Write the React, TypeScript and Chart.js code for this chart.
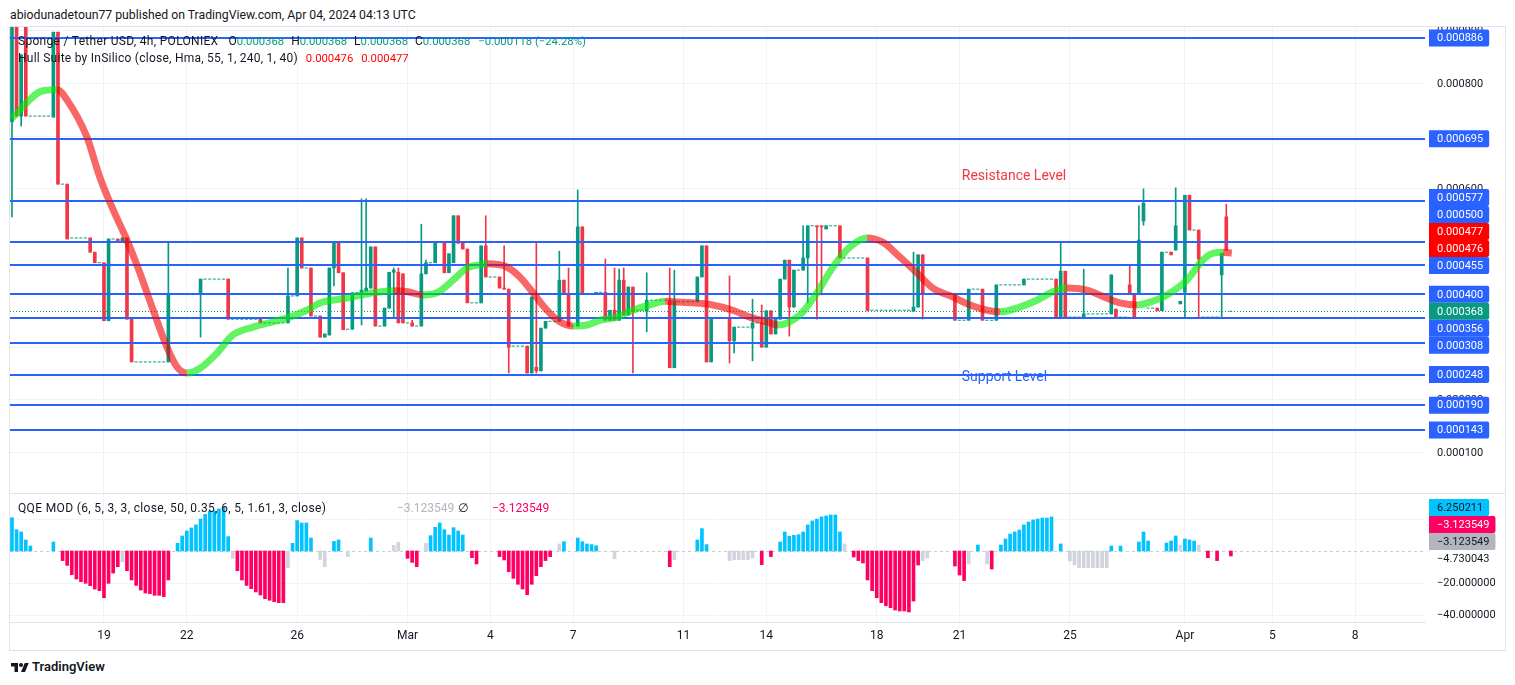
import React, { useEffect, useRef } from 'react';
import { Chart, registerables } from 'chart.js';

Chart.register(...registerables);

// ---------------- data (prices in millionths of USDT) ----------------
const UNIT = 1e-6;

// time axis: bar index of each date label (4h bars, bars without trades are skipped)
const dateTickIdx = [20, 38, 62, 86, 104, 122, 146, 164, 188, 206, 230, 255, 274, 292];
const dateTickLabels = ['19', '22', '26', 'Mar', '4', '7', '11', '14', '18', '21', '25', 'Apr', '5', '8'];

// candles
const candleIdx = [
  0, 1, 2, 3, 9, 10, 12, 17, 18, 20,
  21, 23, 24, 25, 26, 34, 41, 47, 54, 60,
  62, 63, 65, 67, 68, 69, 70, 71, 72, 74,
  76, 77, 78, 79, 81, 82, 83, 84, 85, 87,
  89, 90, 92, 94, 95, 96, 97, 98, 99, 102,
  103, 106, 107, 108, 112, 113, 114, 115, 116, 119,
  120, 121, 123, 124, 127, 129, 130, 131, 132, 133,
  134, 135, 138, 143, 144, 149, 150, 151, 152, 156,
  157, 161, 163, 164, 165, 166, 167, 168, 169, 170,
  172, 173, 175, 176, 177, 180, 186, 196, 197, 198,
  205, 208, 211, 214, 220, 227, 228, 229, 233, 239,
  240, 243, 244, 245, 246, 249, 250, 252, 253, 254,
  255, 256, 258, 263, 264,
];
const candleOpen = [
  727, 920, 738, 920, 736, 897, 609, 507, 480, 460,
  350, 505, 499, 507, 353, 272, 401, 429, 353, 346,
  397, 507, 450, 359, 319, 323, 450, 499, 441, 334,
  403, 406, 412, 490, 340, 374, 442, 442, 439, 346,
  340, 439, 460, 499, 441, 460, 549, 497, 486, 384,
  492, 433, 412, 410, 302, 251, 262, 255, 336, 349,
  427, 401, 340, 528, 401, 404, 351, 370, 351, 427,
  361, 414, 368, 389, 261, 386, 433, 492, 272, 355,
  312, 336, 346, 300, 369, 325, 353, 429, 465, 376,
  446, 469, 530, 530, 524, 530, 469, 368, 376, 475,
  401, 351, 410, 351, 418, 429, 357, 444, 357, 363,
  372, 418, 401, 401, 539, 374, 369, 480, 484, 382,
  404, 588, 522, 437, 547,
];
const candleHigh = [
  950, 950, 854, 950, 897, 897, 609, 507, 480, 460,
  505, 505, 507, 507, 353, 499, 429, 429, 353, 450,
  507, 507, 450, 359, 325, 450, 499, 499, 441, 403,
  581, 581, 490, 490, 374, 442, 450, 450, 439, 351,
  533, 465, 499, 499, 477, 549, 549, 497, 486, 492,
  549, 433, 492, 410, 302, 395, 497, 336, 349, 482,
  427, 450, 598, 528, 404, 467, 370, 450, 448, 450,
  414, 414, 441, 450, 446, 433, 492, 492, 355, 435,
  338, 391, 380, 369, 369, 355, 429, 465, 465, 446,
  530, 530, 530, 530, 530, 530, 469, 480, 475, 475,
  401, 410, 410, 418, 429, 429, 499, 444, 448, 437,
  372, 454, 401, 568, 600, 374, 480, 480, 602, 387,
  588, 588, 522, 478, 571,
];
const candleLow = [
  547, 738, 719, 738, 736, 609, 505, 480, 460, 350,
  350, 499, 499, 353, 272, 272, 319, 353, 346, 346,
  397, 450, 359, 319, 319, 323, 416, 441, 333, 334,
  342, 406, 412, 340, 340, 374, 357, 346, 346, 340,
  340, 439, 460, 441, 441, 460, 497, 486, 384, 384,
  433, 412, 410, 251, 251, 251, 251, 255, 336, 349,
  401, 340, 340, 401, 401, 351, 351, 351, 351, 361,
  361, 251, 329, 261, 261, 386, 433, 272, 272, 270,
  289, 274, 300, 300, 325, 325, 353, 429, 321, 376,
  446, 384, 353, 399, 524, 469, 369, 368, 376, 353,
  351, 351, 351, 351, 418, 357, 357, 357, 357, 363,
  357, 401, 357, 401, 531, 369, 369, 475, 484, 382,
  357, 522, 357, 357, 484,
];
const candleClose = [
  920, 738, 854, 738, 897, 609, 505, 480, 460, 350,
  505, 499, 507, 353, 272, 401, 429, 353, 346, 397,
  507, 450, 359, 319, 325, 450, 499, 441, 333, 403,
  408, 412, 490, 340, 374, 442, 446, 346, 346, 340,
  439, 460, 499, 441, 477, 549, 497, 486, 384, 492,
  433, 412, 410, 300, 251, 395, 255, 336, 349, 427,
  401, 340, 528, 401, 404, 351, 370, 351, 427, 361,
  414, 367, 389, 261, 388, 433, 492, 272, 355, 312,
  338, 346, 300, 369, 325, 355, 429, 465, 376, 446,
  469, 530, 528, 528, 530, 469, 369, 376, 475, 401,
  351, 410, 351, 418, 429, 357, 444, 357, 363, 437,
  357, 401, 357, 503, 573, 369, 480, 475, 530, 387,
  588, 522, 467, 478, 484,
];

// runs of no-trade bars (O=H=L=C)
const dojiStart = [4, 11, 13, 19, 22, 27, 35, 42, 48, 55, 61, 64, 66, 73, 75, 80, 86, 88, 91, 93, 100, 104, 109, 117, 122, 125, 128, 136, 139, 145, 153, 158, 162, 171, 174, 178, 181, 187, 199, 206, 209, 212, 215, 221, 230, 234, 241, 247, 251, 257, 259, 265];
const dojiEnd = [8, 11, 16, 19, 22, 33, 40, 46, 53, 59, 61, 64, 66, 73, 75, 80, 86, 88, 91, 93, 101, 105, 111, 118, 122, 126, 128, 137, 142, 148, 155, 160, 162, 171, 174, 179, 185, 195, 204, 207, 210, 213, 219, 226, 232, 238, 242, 248, 251, 257, 262, 265];
const dojiPrice = [738, 609, 507, 460, 505, 272, 401, 429, 353, 346, 397, 450, 359, 334, 403, 340, 346, 340, 460, 499, 384, 433, 302, 349, 340, 401, 404, 370, 389, 386, 355, 338, 346, 446, 530, 530, 469, 370, 401, 351, 410, 351, 418, 429, 357, 363, 357, 374, 480, 522, 357, 368];

// Hull Suite (HMA 55)
const hullIdx = [0, 6.7, 9.8, 12, 16.3, 19.1, 22, 25, 27.8, 30.7, 33.7, 35.9, 38, 40.9, 44.6, 48, 52.4, 56.7, 60.4, 64.1, 67, 72.8, 78.5, 83, 86, 89.3, 92.4, 95.9, 98.9, 101.7, 103.3, 107.6, 110.4, 113.3, 116.3, 119.1, 122, 125, 127.8, 131.5, 135, 138.7, 142, 145.9, 149.6, 151.7, 156.7, 160.4, 164.1, 166.5, 171.3, 175, 178.5, 182.2, 185.9, 189.3, 193, 196.7, 200.2, 204.6, 208.3, 212, 214.8, 219.1, 222.8, 226.3, 229.3, 233.7, 238, 240.9, 244.6, 248, 251.1, 255.4, 258.9, 261.1, 263.3, 265.2];
const hullVal = [734, 786, 788, 768, 698, 622, 560, 503, 441, 370, 300, 262, 251, 260, 289, 323, 338, 348, 357, 370, 384, 393, 403, 407, 405, 399, 403, 427, 450, 456, 458, 452, 433, 403, 370, 348, 340, 342, 351, 357, 370, 380, 387, 385, 383, 381, 370, 357, 348, 342, 361, 403, 452, 490, 507, 499, 471, 441, 412, 395, 380, 370, 367, 376, 389, 405, 412, 408, 393, 384, 380, 387, 399, 427, 465, 478, 480, 478];

// horizontal levels drawn on the chart
const levelValues = [886, 695, 577, 500, 455, 400, 356, 308, 248, 190, 143];
const hullLast = [477, 476];
const lastPrice = 368;
const lastChange = -118;
const lastChangePct = -24.28;
const priceTicks = [100, 200, 300, 400, 500, 600, 700, 800, 900];
const resistanceNote = { text: 'Resistance Level', idx: 206.5, price: 624 };
const supportNote = { text: 'Support Level', idx: 206.5, price: 243 };

// QQE MOD histogram
const qqeIdx = [
  0, 1, 2, 3, 4, 9, 11, 12, 13, 14,
  15, 16, 17, 18, 19, 20, 21, 22, 23, 24,
  25, 26, 27, 28, 29, 30, 31, 32, 33, 34,
  36, 37, 38, 39, 40, 41, 42, 43, 44, 45,
  46, 47, 48, 49, 50, 51, 52, 53, 54, 55,
  56, 57, 58, 59, 60, 61, 62, 63, 64, 65,
  67, 68, 70, 71, 73, 78, 83, 84, 86, 87,
  88, 90, 91, 92, 93, 94, 95, 96, 97, 98,
  100, 101, 106, 107, 108, 109, 110, 111, 112, 113,
  114, 115, 116, 117, 119, 120, 123, 124, 125, 126,
  127, 131, 143, 144, 149, 150, 151, 156, 157, 158,
  159, 160, 161, 163, 165, 167, 168, 169, 170, 171,
  172, 173, 174, 175, 176, 177, 178, 179, 180, 181,
  183, 184, 185, 186, 187, 188, 189, 190, 191, 192,
  193, 194, 195, 196, 197, 198, 199, 205, 206, 207,
  208, 210, 212, 213, 215, 216, 217, 218, 219, 220,
  221, 222, 223, 224, 225, 226, 228, 230, 231, 232,
  233, 234, 235, 236, 237, 238, 239, 241, 245, 246,
  247, 251, 252, 253, 254, 255, 256, 257, 258, 260,
  262, 265,
];
const qqeVal = [
  20.8, 13.3, 11.9, 6.9, 3.1, 5.6, -6, -9, -14.8, -17.5,
  -19.2, -20.2, -21.7, -23.8, -24.8, -29.2, -20.2, -13.8, -9.8, -6.7,
  -12.3, -18.1, -21.5, -24.4, -26.3, -26.7, -27.7, -27.7, -28.5, -18.1,
  4.8, 9.4, 12.5, 14.4, 16.3, 20, 22.9, 25, 25, 26.3,
  27.3, 9, -4.6, -12.3, -18.1, -21.5, -23.5, -25.6, -27.5, -29.8,
  -30.8, -31.7, -32.3, -32.3, -10.4, 4.8, 19, 17.5, 17.5, 8.1,
  -5.2, -9.8, 6, 6.9, -3.5, 8.1, 3.5, 5.4, -4.6, -7.1,
  -9.8, 4.8, 9.6, 14.8, 17.5, 13.3, 10, 14.6, 12.5, 10,
  -4.2, -8.1, -3.5, -5.6, -12.9, -17.1, -20.8, -23.8, -27.3, -20.8,
  -15.4, -9.8, -6, -3.5, 4.4, 5.8, 8.1, 5.8, 4.4, 4,
  3.3, -4.8, -9.8, -5.4, 6.9, 14, 4, -6, -5.4, -5.4,
  -5.4, -5.4, -4.4, -8.5, -3.5, 5.6, 11.9, 9.2, 9.8, 10.2,
  11.9, 16.3, 18.8, 20, 21.3, 21.9, 22.5, 22.5, 11.9, 4.4,
  -3.75, -6, -7.5, -18.1, -24.8, -29.2, -32.3, -34.2, -35.4, -36.9,
  -37.5, -37.5, -38.1, -31.3, -8.75, -6, -4.4, -9.4, -15, -18.5,
  -8.1, 3.75, -8.1, -11.25, 3.75, 7.5, 10.6, 11.9, 13.1, 16.3,
  18.1, 19.4, 20, 20.6, 20.6, 21.3, 4.4, -6.25, -8.75, -10.4,
  -10.4, -10.4, -10.4, -10.4, -10.4, -10.4, 3.1, 3.1, 5.6, 11.9,
  6.25, 5, 6.25, 9.4, 3.75, 7.5, 6.9, 6.25, 3.75, -4.2,
  -6, -3.12,
];
// u = above threshold (blue), d = below threshold (pink), n = neutral (grey)
const qqeKind = (
  'uuuuuudddd' + 'dddddddddn' + 'dddddddddd' + 'uuuuuuuuuu' + 'uunddddddd' +
  'ddddnuuuuu' + 'nnuununndd' + 'dnuuuuuuuu' + 'dddddddddd' + 'ddddnuuuuu' +
  'undnuuunnn' + 'nnndduuuuu' + 'uuuuuuuuun' + 'dddddddddd' + 'dddddnnddd' +
  'nunduuuuuu' + 'uuuuuuunnn' + 'nnnnnnuuuu' + 'uuuunuuund' + 'dd'
).split('');
const qqeTicks = [20, 0, -20, -40];
const qqeLabelValues = [6.250211, -3.123549, -3.123549, -4.730043];
const qqeLabelKinds = ['u', 'd', 'n', 'plain'];

// ---------------- style ----------------
const FONT = 'Roboto, "Noto Sans", "DejaVu Sans", sans-serif';
const TEXT = '#131722';
const UP = '#089981';
const DOWN = '#f23645';
const LEVEL = '#2962ff';
const GRID = '#f0f3fa';
const HULL_UP = 'rgba(0, 235, 0, 0.62)';
const HULL_DOWN = 'rgba(245, 0, 0, 0.6)';
const QQE_COLORS: Record<string, string> = { u: '#00c3ff', d: '#ff0062', n: '#d1d4dc' };
const X_MIN = -0.43;
const X_MAX = 307.2;
const Y_MIN = 23.6;
const Y_MAX = 906.8;
const Q_MIN = -44.375;
const Q_MAX = 35.625;
const AXIS_W = 80;
const LABEL_H = 17;

const fmtQ = (v: number) => v.toFixed(6).replace('-', '\u2212');

function placeLabels(items: any[], h: number) {
  const out = items.slice().sort((a, b) => a.y - b.y).map((it) => ({ ...it, py: it.y }));
  let anchor = out.findIndex((it) => it.fixed);
  if (anchor < 0) anchor = out.length - 1;
  for (let i = anchor - 1; i >= 0; i--) out[i].py = Math.min(out[i].y, out[i + 1].py - h);
  for (let i = anchor + 1; i < out.length; i++) out[i].py = Math.max(out[i].y, out[i - 1].py + h);
  return out;
}

function drawBox(ctx: any, x: number, yc: number, text: string, bg: string | null, fg: string) {
  ctx.font = `11px ${FONT}`;
  const w = ctx.measureText(text).width + 14;
  if (bg) {
    ctx.fillStyle = bg;
    ctx.beginPath();
    if (ctx.roundRect) ctx.roundRect(x, yc - LABEL_H / 2, w, LABEL_H, [0, 2, 2, 0]);
    else ctx.rect(x, yc - LABEL_H / 2, w, LABEL_H);
    ctx.fill();
  }
  ctx.fillStyle = fg;
  ctx.textAlign = 'left';
  ctx.textBaseline = 'middle';
  ctx.fillText(text, x + 8, yc + 0.5);
}

const xAxisBase = () => ({
  type: 'linear',
  min: X_MIN,
  max: X_MAX,
  offset: false,
  afterBuildTicks: (s: any) => {
    s.ticks = dateTickIdx.map((v) => ({ value: v }));
  },
  grid: { color: GRID, drawTicks: false, offset: false },
  border: { display: false },
});

const mainDecor = {
  id: 'mainDecor',
  beforeDatasetDraw(chart: any, args: any) {
    if (args.index !== 0) return;
    const { ctx, chartArea: a, scales } = chart;
    const y = scales.y;
    ctx.save();
    ctx.beginPath();
    ctx.rect(a.left, a.top, a.right - a.left, a.bottom - a.top);
    ctx.clip();
    ctx.strokeStyle = LEVEL;
    ctx.lineWidth = 2;
    for (const lv of levelValues) {
      const py = Math.round(y.getPixelForValue(lv * UNIT));
      ctx.beginPath();
      ctx.moveTo(a.left, py);
      ctx.lineTo(a.right, py);
      ctx.stroke();
    }
    ctx.strokeStyle = UP;
    ctx.lineWidth = 1;
    ctx.setLineDash([1, 2]);
    const cy = Math.round(y.getPixelForValue(lastPrice * UNIT)) + 0.5;
    ctx.beginPath();
    ctx.moveTo(a.left, cy);
    ctx.lineTo(a.right, cy);
    ctx.stroke();
    ctx.restore();
  },
  afterDraw(chart: any) {
    const { ctx, chartArea: a, scales } = chart;
    const x = scales.x;
    const y = scales.y;
    ctx.save();
    ctx.font = `14px ${FONT}`;
    ctx.textAlign = 'left';
    ctx.textBaseline = 'middle';
    ctx.fillStyle = DOWN;
    ctx.fillText(resistanceNote.text, x.getPixelForValue(resistanceNote.idx), y.getPixelForValue(resistanceNote.price * UNIT));
    ctx.fillStyle = LEVEL;
    ctx.fillText(supportNote.text, x.getPixelForValue(supportNote.idx), y.getPixelForValue(supportNote.price * UNIT));

    ctx.font = `11px ${FONT}`;
    ctx.fillStyle = TEXT;
    for (const t of priceTicks) {
      ctx.fillText((t * UNIT).toFixed(6), a.right + 12, y.getPixelForValue(t * UNIT) + 0.5);
    }
    const items: any[] = [
      ...levelValues.map((v) => ({ v, bg: LEVEL, fg: '#ffffff' })),
      ...hullLast.map((v) => ({ v, bg: '#ff0000', fg: '#ffffff' })),
      { v: lastPrice, bg: UP, fg: '#ffffff', fixed: true },
    ];
    items.forEach((it) => (it.y = y.getPixelForValue(it.v * UNIT)));
    for (const it of placeLabels(items, LABEL_H)) {
      drawBox(ctx, a.right + 4, it.py, (it.v * UNIT).toFixed(6), it.bg, it.fg);
    }
    ctx.restore();
  },
};

const qqeDecor = {
  id: 'qqeDecor',
  beforeDatasetsDraw(chart: any) {
    const { ctx, chartArea: a, scales } = chart;
    const zy = Math.round(scales.y.getPixelForValue(0)) + 0.5;
    ctx.save();
    ctx.strokeStyle = '#c9ccd3';
    ctx.lineWidth = 1;
    ctx.setLineDash([3, 3]);
    ctx.beginPath();
    ctx.moveTo(a.left, zy);
    ctx.lineTo(a.right, zy);
    ctx.stroke();
    ctx.restore();
  },
  afterDraw(chart: any) {
    const { ctx, chartArea: a, scales } = chart;
    const y = scales.y;
    ctx.save();
    const items: any[] = qqeLabelValues.map((v, i) => {
      const k = qqeLabelKinds[i];
      const bg = k === 'plain' ? null : k === 'n' ? '#b2b5be' : QQE_COLORS[k];
      const fg = k === 'd' ? '#ffffff' : TEXT;
      return { v, bg, fg, y: y.getPixelForValue(v) };
    });
    const placed = placeLabels(items, LABEL_H);
    ctx.font = `11px ${FONT}`;
    ctx.fillStyle = TEXT;
    ctx.textAlign = 'left';
    ctx.textBaseline = 'middle';
    for (const t of qqeTicks) {
      const py = y.getPixelForValue(t);
      if (placed.some((p) => Math.abs(p.py - py) < 12)) continue;
      ctx.fillText(fmtQ(t), a.right + 12, py + 0.5);
    }
    for (const it of placed) drawBox(ctx, a.right + 4, it.py, fmtQ(it.v), it.bg, it.fg);
    ctx.restore();
  },
};

function mainConfig(): any {
  const bodies = candleIdx.map((x, i) => ({ x, y: [candleOpen[i] * UNIT, candleClose[i] * UNIT] }));
  const wicks = candleIdx.map((x, i) => ({ x, y: [candleLow[i] * UNIT, candleHigh[i] * UNIT] }));
  const colors = candleIdx.map((_, i) => (candleClose[i] >= candleOpen[i] ? UP : DOWN));
  const dojis: any[] = [];
  dojiStart.forEach((s, i) => {
    dojis.push({ x: s - 0.35, y: dojiPrice[i] * UNIT });
    dojis.push({ x: dojiEnd[i] + 0.35, y: dojiPrice[i] * UNIT });
    dojis.push({ x: dojiEnd[i] + 0.4, y: null });
  });
  return {
    type: 'bar',
    data: {
      datasets: [
        {
          type: 'line',
          label: 'Hull',
          data: hullIdx.map((x, i) => ({ x, y: hullVal[i] * UNIT })),
          borderWidth: 7,
          pointRadius: 0,
          cubicInterpolationMode: 'monotone',
          borderColor: HULL_UP,
          segment: {
            borderColor: (c: any) => (c.p1.parsed.y >= c.p0.parsed.y ? HULL_UP : HULL_DOWN),
          },
          order: 0,
        },
        {
          type: 'line',
          label: 'flat',
          data: dojis,
          borderColor: UP,
          borderWidth: 1,
          borderDash: [3, 1.6],
          pointRadius: 0,
          spanGaps: false,
          order: 3,
        },
        {
          type: 'bar',
          label: 'wick',
          data: wicks,
          backgroundColor: colors,
          barThickness: 1,
          categoryPercentage: 1,
          barPercentage: 1,
          grouped: false,
          borderWidth: 0,
          order: 2,
        },
        {
          type: 'bar',
          label: 'body',
          data: bodies,
          backgroundColor: colors,
          barThickness: 3,
          categoryPercentage: 1,
          barPercentage: 1,
          grouped: false,
          minBarLength: 1,
          borderWidth: 0,
          order: 1,
        },
      ],
    },
    options: {
      animation: false,
      responsive: false,
      events: [],
      layout: { padding: 0 },
      plugins: { legend: { display: false }, tooltip: { enabled: false } },
      scales: {
        x: {
          ...xAxisBase(),
          ticks: { display: false },
          afterFit: (s: any) => {
            s.height = 0;
          },
        },
        y: {
          type: 'linear',
          position: 'right',
          min: Y_MIN * UNIT,
          max: Y_MAX * UNIT,
          afterBuildTicks: (s: any) => {
            s.ticks = priceTicks.map((v) => ({ value: v * UNIT }));
          },
          ticks: { display: false },
          grid: { color: GRID, drawTicks: false },
          border: { display: false },
          afterFit: (s: any) => {
            s.width = AXIS_W;
          },
        },
      },
    },
    plugins: [mainDecor],
  };
}

function qqeConfig(): any {
  return {
    type: 'bar',
    data: {
      datasets: [
        {
          label: 'QQE',
          data: qqeIdx.map((x, i) => ({ x, y: qqeVal[i] })),
          backgroundColor: qqeKind.map((k) => QQE_COLORS[k]),
          barThickness: 3,
          categoryPercentage: 1,
          barPercentage: 1,
          grouped: false,
          borderWidth: 0,
        },
      ],
    },
    options: {
      animation: false,
      responsive: false,
      events: [],
      layout: { padding: 0 },
      plugins: { legend: { display: false }, tooltip: { enabled: false } },
      scales: {
        x: {
          ...xAxisBase(),
          border: { display: true, color: '#e0e3eb' },
          ticks: {
            display: true,
            autoSkip: false,
            maxRotation: 0,
            padding: 7,
            color: TEXT,
            font: { family: FONT, size: 12 },
            callback: (_v: any, i: number) => dateTickLabels[i],
          },
          afterFit: (s: any) => {
            s.height = 28;
          },
        },
        y: {
          type: 'linear',
          position: 'right',
          min: Q_MIN,
          max: Q_MAX,
          afterBuildTicks: (s: any) => {
            s.ticks = [20, -20, -40].map((v) => ({ value: v }));
          },
          ticks: { display: false },
          grid: { color: GRID, drawTicks: false },
          border: { display: false },
          afterFit: (s: any) => {
            s.width = AXIS_W;
          },
        },
      },
    },
    plugins: [qqeDecor],
  };
}

const abs = (left: number, top: number, extra: any = {}) => ({ position: 'absolute' as const, left, top, whiteSpace: 'nowrap' as const, ...extra });

export default function App() {
  const mainRef = useRef<HTMLCanvasElement>(null);
  const qqeRef = useRef<HTMLCanvasElement>(null);

  useEffect(() => {
    const c1 = new Chart(mainRef.current as HTMLCanvasElement, mainConfig());
    const c2 = new Chart(qqeRef.current as HTMLCanvasElement, qqeConfig());
    return () => {
      c1.destroy();
      c2.destroy();
    };
  }, []);

  const p = (v: number) => (v * UNIT).toFixed(6);
  const legendItem = (k: string, v: string, ml: number) => (
    <span style={{ marginLeft: ml }}>
      {k}
      <span style={{ color: UP, fontSize: 11.3 }}>{v}</span>
    </span>
  );

  return (
    <div
      style={{
        position: 'absolute',
        left: 0,
        top: 0,
        width: 1515,
        height: 685,
        background: '#ffffff',
        overflow: 'hidden',
        fontFamily: FONT,
        color: TEXT,
      }}
    >
      <div style={abs(10, 7, { fontSize: 12.25, lineHeight: '16px' })}>
        abiodunadetoun77 published on TradingView.com, Apr 04, 2024 04:13 UTC
      </div>
      <div
        style={abs(9, 26, {
          width: 1497,
          height: 625,
          border: '1px solid #e0e3eb',
          boxSizing: 'border-box',
        })}
      />
      <canvas ref={mainRef} width={1495} height={466} style={abs(10, 27, { width: 1495, height: 466 })} />
      <div style={abs(10, 493, { width: 1495, height: 1, background: '#e0e3eb' })} />
      <canvas ref={qqeRef} width={1495} height={156} style={abs(10, 494, { width: 1495, height: 156 })} />

      <div style={abs(18, 33, { fontSize: 12, lineHeight: '16px' })}>
        <span style={{ letterSpacing: 0.3 }}>Sponge / Tether USD, 4h, POLONIEX</span>
        {legendItem('O', p(lastPrice), 10)}
        {legendItem('H', p(lastPrice), 7)}
        {legendItem('L', p(lastPrice), 7)}
        {legendItem('C', p(lastPrice), 7)}
        <span style={{ marginLeft: 8, color: UP, fontSize: 11.3 }}>
          {p(lastChange).replace('-', '\u2212')} ({lastChangePct.toFixed(2).replace('-', '\u2212')}%)
        </span>
      </div>
      <div style={abs(18, 50, { fontSize: 12, lineHeight: '16px' })}>
        <span style={{ letterSpacing: 0.25 }}>Hull Suite by InSilico (close, Hma, 55, 1, 240, 1, 40)</span>
        <span style={{ marginLeft: 8, color: '#ff0000', fontSize: 11.3 }}>{p(hullLast[1])}</span>
        <span style={{ marginLeft: 8, color: '#ff0000', fontSize: 11.3 }}>{p(hullLast[0])}</span>
      </div>

      <div style={abs(18, 500, { fontSize: 12, lineHeight: '16px', letterSpacing: 0.35 })}>
        QQE MOD (6, 5, 3, 3, close, 50, 0.35, 6, 5, 1.61, 3, close)
      </div>
      <div style={abs(397, 500, { fontSize: 12, lineHeight: '16px', color: '#b2b5be' })}>{fmtQ(qqeLabelValues[2])}</div>
      <div style={abs(458, 500, { fontSize: 12, lineHeight: '16px' })}>∅</div>
      <div style={abs(492, 500, { fontSize: 12, lineHeight: '16px', color: '#ff0062' })}>{fmtQ(qqeLabelValues[1])}</div>

      <svg style={abs(10, 661)} width="20" height="14" viewBox="0 0 36 28">
        <path d="M14 22H7V11H0V4h14v18zM28 22h-8l7.5-18h8L28 22z" fill={TEXT} />
        <circle cx="20" cy="8" r="4" fill={TEXT} />
      </svg>
      <div style={abs(32, 659, { fontSize: 13, fontWeight: 600, lineHeight: '16px' })}>TradingView</div>
    </div>
  );
}
